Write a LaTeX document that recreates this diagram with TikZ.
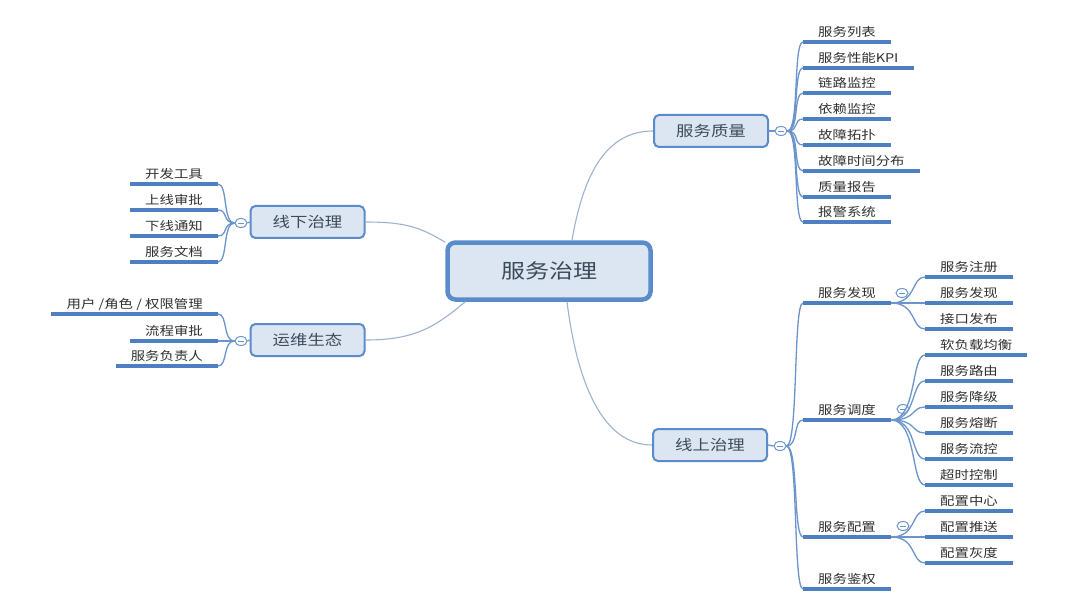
\documentclass[tikz,border=0pt]{standalone}
\usepackage{fontspec}
\setmainfont{Noto Sans CJK SC}[FakeStretch=1.2]
\usepackage{tikz}
\usetikzlibrary{shapes.geometric, positioning}

\definecolor{boxline}{HTML}{5A8BCB}
\definecolor{boxfill}{HTML}{DCE6F2}
\definecolor{boxink}{HTML}{3B4A5B}
\definecolor{leafink}{HTML}{303030}
\definecolor{barblue}{HTML}{4E7FC1}
\definecolor{linkblue}{HTML}{6A94CB}
\definecolor{trunk}{HTML}{9DB3CF}

\tikzset{
  root/.style={draw=boxline, line width=4.5pt, fill=boxfill, rounded corners=8pt,
    minimum width=203pt, minimum height=57pt, text=boxink,
    font=\fontsize{20}{24}\selectfont},
  topic/.style={draw=boxline, line width=2pt, fill=boxfill, rounded corners=5pt,
    minimum width=114pt, minimum height=32pt, text=boxink,
    font=\fontsize{14.5}{17}\selectfont},
  leaf/.style={inner xsep=15pt, inner ysep=5pt, text height=9pt, text depth=0pt,
    text=leafink, font=\fontsize{12}{14}\selectfont},
  bar/.style={barblue, line width=3.2pt},
  link/.style={linkblue, line width=1.3pt},
  trunkline/.style={trunk, line width=1.1pt},
  fold/.style={ellipse, draw=linkblue, fill=white, line width=1pt, inner sep=0pt,
    minimum width=12pt, minimum height=9pt,
    path picture={\draw[linkblue, line width=.8pt]
      ([xshift=-3pt]path picture bounding box.center) --
      ([xshift=3pt]path picture bounding box.center);}}
}

\begin{document}
\begin{tikzpicture}[x=1pt, y=-1pt]

  \fill[white] (0,0) rectangle (1080,615);
  \useasboundingbox (0,0) rectangle (1080,615);

  % --- centre and main topics ---
  \node[root] (hub) at (549,271) {服务治理};
  \node[topic] (quality) at (711,131) {服务质量};
  \node[topic] (offline) at (307.5,222) {线下治理};
  \node[topic] (devops)  at (307.5,340) {运维生态};
  \node[topic] (online)  at (710,445) {线上治理};

  \draw[trunkline] ([xshift=23pt]hub.north) .. controls +(12,-70) and +(-45,0) .. (quality.west);
  \draw[trunkline] ([xshift=18pt]hub.south) .. controls +(10,80) and +(-50,0) .. (online.west);
  \draw[trunkline] ([yshift=-2pt]hub.north west) .. controls +(-25,-15) and +(40,0) .. (offline.east);
  \draw[trunkline] ([xshift=20pt]hub.south west) .. controls +(-30,25) and +(50,0) .. (devops.east);

  % fold markers next to the topics
  \node[fold] (qfold) at (781,131) {};
  \node[fold] (ofold) at (241,223) {};
  \node[fold] (dfold) at (241,341) {};
  \node[fold] (nfold) at (780,446) {};
  \draw[link] (quality.east) -- (qfold.west);
  \draw[link] (offline.west) -- (ofold.east);
  \draw[link] (devops.west) -- (dfold.east);
  \draw[link] (online.east) -- (nfold.west);

  % --- 服务质量 leaves ---
  \foreach \name/\txt/\y in {q1/服务列表/42, q2/服务性能KPI/68, q3/链路监控/93,
      q4/依赖监控/119, q5/故障拓扑/145, q6/故障时间分布/171, q7/质量报告/197, q8/报警系统/222} {
    \node[leaf, anchor=south west] (\name) at (803,\y) {\txt};
    \draw[bar] (\name.south west) -- (\name.south east);
    \draw[link] (qfold.east) .. controls +(12,0) and +(-10,0) .. (\name.south west);
  }

  % --- 线下治理 leaves ---
  \foreach \name/\txt/\y in {o1/开发工具/184, o2/上线审批/210, o3/下线通知/236, o4/服务文档/262} {
    \node[leaf, anchor=south east] (\name) at (218,\y) {\txt};
    \draw[bar] (\name.south west) -- (\name.south east);
    \draw[link] (ofold.west) .. controls +(-12,0) and +(10,0) .. (\name.south east);
  }

  % --- 运维生态 leaves ---
  \foreach \name/\txt/\y in {d1/{用户 /角色 / 权限管理}/314, d2/流程审批/341, d3/服务负责人/366} {
    \node[leaf, anchor=south east] (\name) at (218,\y) {\txt};
    \draw[bar] (\name.south west) -- (\name.south east);
    \draw[link] (dfold.west) .. controls +(-12,0) and +(10,0) .. (\name.south east);
  }

  % --- 线上治理 sub-topics ---
  \foreach \name/\txt/\y in {find/服务发现/303, sched/服务调度/420, conf/服务配置/537, auth/服务鉴权/589} {
    \node[leaf, anchor=south west] (\name) at (803,\y) {\txt};
    \draw[bar] (\name.south west) -- (\name.south east);
    \draw[link] (nfold.east) .. controls +(12,0) and +(-10,0) .. (\name.south west);
  }
  \node[fold] (ffold) at (902,293) {};
  \node[fold] (sfold) at (903,409) {};
  \node[fold] (cfold) at (903,526) {};

  % third level
  \foreach \name/\txt/\y in {f1/服务注册/277, f2/服务发现/303, f3/接口发布/329} {
    \node[leaf, anchor=south west] (\name) at (925,\y) {\txt};
    \draw[bar] (\name.south west) -- (\name.south east);
    \draw[link] (find.south east) .. controls +(26,0) and +(-14,0) .. (\name.south west);
  }
  \foreach \name/\txt/\y in {s1/软负载均衡/355, s2/服务路由/381, s3/服务降级/407,
      s4/服务熔断/433, s5/服务流控/459, s6/超时控制/485} {
    \node[leaf, anchor=south west] (\name) at (925,\y) {\txt};
    \draw[bar] (\name.south west) -- (\name.south east);
    \draw[link] (sched.south east) .. controls +(26,0) and +(-14,0) .. (\name.south west);
  }
  \foreach \name/\txt/\y in {c1/配置中心/511, c2/配置推送/537, c3/配置灰度/563} {
    \node[leaf, anchor=south west] (\name) at (925,\y) {\txt};
    \draw[bar] (\name.south west) -- (\name.south east);
    \draw[link] (conf.south east) .. controls +(26,0) and +(-14,0) .. (\name.south west);
  }

\end{tikzpicture}
\end{document}
